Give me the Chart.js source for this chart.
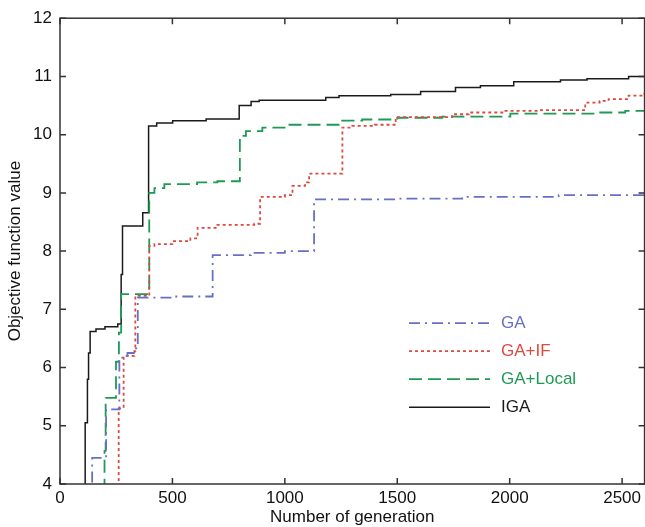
<!DOCTYPE html>
<html>
<head>
<meta charset="utf-8">
<script src="https://cdn.jsdelivr.net/npm/chart.js@4.4.1/dist/chart.umd.min.js"></script>
<style>
    html, body { margin: 0; padding: 0; background: #fff; }
</style>
</head>
<body>
<canvas id="myChart" width="645" height="527"></canvas>
<script>
// generation at which the best value changes, and the new value
const gaGen = [0, 143, 205, 264, 300, 338, 346, 500, 679, 849, 1000, 1130, 1500, 1789, 2218, 2600];
const gaVal = [3, 4.45, 5.28, 6.17, 6.25, 6.33, 7.2, 7.22, 7.93, 7.97, 8.0, 8.89, 8.9, 8.93, 8.96, 8.96];

const gaIfGen = [0, 261, 283, 331, 335, 397, 420, 500, 580, 612, 700, 864, 890, 1000, 1034, 1090, 1108, 1256, 1300, 1400, 1493, 1744, 1818, 1981, 2129, 2336, 2400, 2440, 2529, 2600];
const gaIfVal = [3, 5.3, 6.2, 6.28, 7.23, 8.09, 8.12, 8.17, 8.22, 8.4, 8.45, 8.47, 8.93, 8.96, 9.12, 9.18, 9.33, 10.12, 10.15, 10.17, 10.3, 10.35, 10.38, 10.41, 10.42, 10.55, 10.58, 10.61, 10.67, 10.72];

const gaLocGen = [0, 198, 203, 249, 262, 272, 397, 420, 464, 610, 700, 800, 827, 900, 1010, 1255, 1344, 1500, 1700, 2003, 2388, 2514, 2600];
const gaLocVal = [3, 4.57, 5.48, 6.1, 6.6, 7.26, 9.0, 9.08, 9.15, 9.18, 9.2, 9.98, 10.06, 10.12, 10.17, 10.24, 10.26, 10.29, 10.31, 10.36, 10.38, 10.41, 10.41];

const igaGen = [0, 112, 122, 127, 134, 160, 200, 257, 272, 278, 368, 394, 430, 501, 650, 797, 850, 886, 1182, 1241, 1471, 1604, 1759, 1870, 2018, 2226, 2344, 2529, 2600];
const igaVal = [3, 5.05, 5.8, 6.25, 6.62, 6.66, 6.7, 6.75, 7.6, 8.43, 8.66, 10.15, 10.2, 10.24, 10.27, 10.5, 10.57, 10.59, 10.64, 10.67, 10.69, 10.74, 10.81, 10.84, 10.91, 10.94, 10.96, 11.0, 11.0];

const seriesNames = ['GA', 'GA+IF', 'GA+Local', 'IGA'];
const xTicks = [0, 500, 1000, 1500, 2000, 2500];
const yTicks = [4, 5, 6, 7, 8, 9, 10, 11, 12];

const FONT = '"Liberation Sans", Arial, sans-serif';
const colors = ['#6670c4', '#dc4a40', '#1f9a55', '#1a1a1a'];
const dashes = [[11, 5, 2, 5], [3, 3], [13, 6], []];

function pts(gens, vals) {
    return gens.map((g, i) => ({ x: g, y: vals[i] }));
}

const allData = [pts(gaGen, gaVal), pts(gaIfGen, gaIfVal), pts(gaLocGen, gaLocVal), pts(igaGen, igaVal)];

const framePlugin = {
    id: 'frame',
    afterDatasetsDraw(chart) {
        const { ctx, chartArea: a, scales } = chart;
        ctx.save();
        ctx.strokeStyle = '#333';
        ctx.lineWidth = 1.5;
        ctx.strokeRect(a.left, a.top, a.right - a.left, a.bottom - a.top);
        // inward tick marks on all four sides
        ctx.beginPath();
        xTicks.forEach(v => {
            const px = scales.x.getPixelForValue(v);
            ctx.moveTo(px, a.bottom); ctx.lineTo(px, a.bottom - 6);
            ctx.moveTo(px, a.top); ctx.lineTo(px, a.top + 6);
        });
        yTicks.forEach(v => {
            const py = scales.y.getPixelForValue(v);
            ctx.moveTo(a.left, py); ctx.lineTo(a.left + 6, py);
            ctx.moveTo(a.right, py); ctx.lineTo(a.right - 6, py);
        });
        ctx.stroke();

        // legend inside the plot
        ctx.font = '17px ' + FONT;
        ctx.textBaseline = 'middle';
        seriesNames.forEach((name, i) => {
            const ly = a.top + 305 + i * 28;
            ctx.beginPath();
            ctx.setLineDash(dashes[i]);
            ctx.strokeStyle = colors[i];
            ctx.lineWidth = i === 3 ? 1.5 : 1.8;
            ctx.moveTo(a.left + 349, ly);
            ctx.lineTo(a.left + 430, ly);
            ctx.stroke();
            ctx.setLineDash([]);
            ctx.fillStyle = colors[i];
            ctx.fillText(name, a.left + 441, ly);
        });
        ctx.restore();
    }
};

const ctx = document.getElementById('myChart');

new Chart(ctx, {
    type: 'line',
    data: {
        datasets: seriesNames.map((name, i) => ({
            label: name,
            data: allData[i],
            borderColor: colors[i],
            borderDash: dashes[i],
            borderWidth: i === 3 ? 1.5 : 1.8,
            stepped: 'before',
            pointRadius: 0,
            fill: false
        }))
    },
    options: {
        responsive: false,
        animation: false,
        layout: { padding: { top: 17, right: 0, left: 0, bottom: 0 } },
        plugins: {
            legend: { display: false },
            tooltip: { enabled: false }
        },
        scales: {
            x: {
                type: 'linear',
                min: 0,
                max: 2600,
                afterFit(scale) { scale.height = 43; },
                afterBuildTicks(scale) { scale.ticks = xTicks.map(v => ({ value: v })); },
                grid: { display: false, drawTicks: false },
                border: { display: false },
                ticks: {
                    padding: 4,
                    color: '#111',
                    autoSkip: false,
                    maxRotation: 0,
                    callback: v => String(v),
                    font: { family: FONT, size: 17 }
                },
                title: {
                    display: true,
                    text: 'Number of generation',
                    color: '#111',
                    padding: { top: 0, bottom: 0 },
                    font: { family: FONT, size: 17, lineHeight: 1.1 }
                }
            },
            y: {
                min: 4,
                max: 12,
                afterFit(scale) { scale.width = 60; },
                afterBuildTicks(scale) { scale.ticks = yTicks.map(v => ({ value: v })); },
                grid: { display: false, drawTicks: false },
                border: { display: false },
                ticks: {
                    padding: 8,
                    color: '#111',
                    callback: v => String(v),
                    font: { family: FONT, size: 17 }
                },
                title: {
                    display: true,
                    text: 'Objective function value',
                    color: '#111',
                    padding: { top: 6, bottom: 0 },
                    font: { family: FONT, size: 17, lineHeight: 1.1 }
                }
            }
        }
    },
    plugins: [framePlugin]
});
</script>
</body>
</html>
